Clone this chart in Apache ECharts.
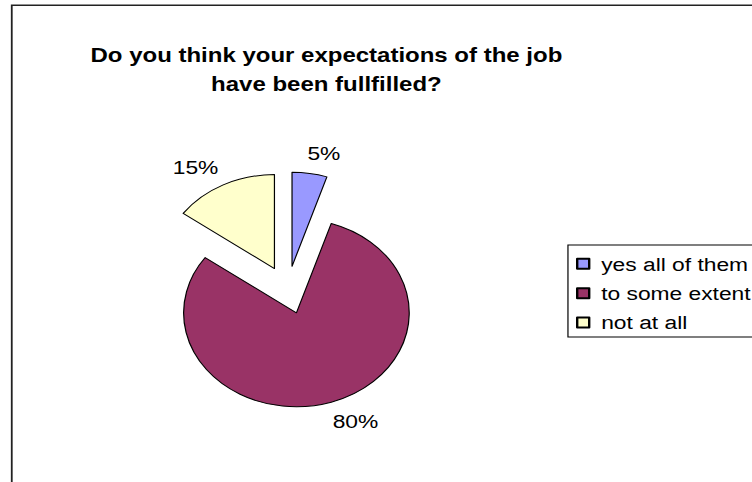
<!DOCTYPE html>
<html>
<head>
<meta charset="utf-8">
<script src="https://cdn.jsdelivr.net/npm/echarts@6/dist/echarts.min.js"></script>
<style>
  html, body { margin: 0; padding: 0; background: #fff; overflow: hidden; width: 752px; height: 482px; }
  #main { width: 627px; height: 482px; transform: scaleX(1.2); transform-origin: 0 0; }
</style>
</head>
<body>
<div id="main"></div>
<script>
const titleLines = ['Do you think your expectations of the job', 'have been fullfilled?'];
const categories = ['yes all of them', 'to some extent', 'not at all'];
const values = [5, 80, 15];
const colors = ['#9999FF', '#993366', '#FFFFCC'];

const FONT = '"Liberation Sans", Arial, sans-serif';
const chart = echarts.init(document.getElementById('main'), null, { renderer: 'svg' });

chart.setOption({
  animation: false,
  backgroundColor: '#fff',
  color: colors,
  graphic: [{
    type: 'rect',
    shape: { x: 9.8, y: 5.3, width: 1000, height: 1000 },
    style: { fill: 'none', stroke: '#222', lineWidth: 1.5 },
    silent: true
  }],
  title: {
    text: titleLines.join('\n'),
    left: 272,
    top: 41.3,
    padding: 0,
    textAlign: 'center',
    textStyle: { fontFamily: FONT, fontSize: 20, fontWeight: 'bold', color: '#000', lineHeight: 28.4 }
  },
  legend: {
    orient: 'vertical',
    left: 473.3,
    top: 245,
    padding: [9.3, 20, 4.9, 6.7],
    itemWidth: 10,
    itemHeight: 10,
    itemGap: 10.4,
    icon: 'rect',
    borderColor: '#000',
    borderWidth: 1,
    selectedMode: false,
    data: categories,
    textStyle: { fontFamily: FONT, fontSize: 19, color: '#000', padding: [0, 0, 0, 5] }
  },
  series: [{
    type: 'pie',
    center: [239.6, 290],
    radius: 94,
    startAngle: 90,
    clockwise: true,
    selectedMode: 'multiple',
    selectedOffset: 24,
    avoidLabelOverlap: false,
    silent: true,
    itemStyle: { borderColor: '#000', borderWidth: 1 },
    label: {
      show: true,
      position: 'outside',
      formatter: '{d}%',
      fontFamily: FONT,
      fontSize: 19,
      color: '#000',
      alignTo: 'none',
      distanceToLabelLine: -5
    },
    labelLine: { show: false, length: 20, length2: 0 },
    emphasis: { disabled: true },
    data: categories.map((name, i) => ({ name: name, value: values[i], selected: true }))
  }]
});
</script>
</body>
</html>
